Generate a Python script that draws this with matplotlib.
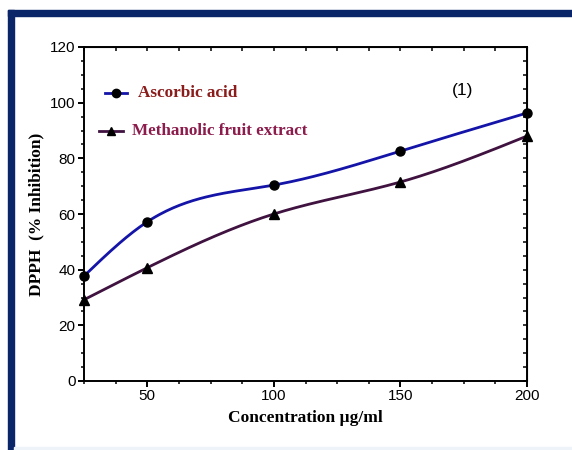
import numpy as np
import matplotlib
matplotlib.use("Agg")
import matplotlib.pyplot as plt
from matplotlib.patches import Rectangle
from matplotlib.lines import Line2D
from matplotlib.ticker import MultipleLocator

# data
conc = [25, 50, 100, 150, 200]
ascorbic = [37.7, 57.2, 70.4, 82.6, 96.3]
methanolic = [29.2, 40.7, 60.0, 71.5, 88.0]

series_names = ["Ascorbic acid", "Methanolic fruit extract"]
line_colors = ["#1414a8", "#3f1240"]
text_colors = ["#8b1c1c", "#8b1c4c"]
markers = ["o", "^"]

BORDER = "#0b2668"


def natural_spline(x, y, n=200):
    """Smooth curve through the points (natural cubic spline), for drawing only."""
    x = np.asarray(x, float)
    y = np.asarray(y, float)
    m = len(x)
    h = np.diff(x)
    A = np.zeros((m, m))
    b = np.zeros(m)
    A[0, 0] = A[-1, -1] = 1.0
    for i in range(1, m - 1):
        A[i, i - 1] = h[i - 1]
        A[i, i] = 2 * (h[i - 1] + h[i])
        A[i, i + 1] = h[i]
        b[i] = 6 * ((y[i + 1] - y[i]) / h[i] - (y[i] - y[i - 1]) / h[i - 1])
    M = np.linalg.solve(A, b)
    xs = np.linspace(x[0], x[-1], n)
    k = np.clip(np.searchsorted(x, xs) - 1, 0, m - 2)
    t0 = x[k + 1] - xs
    t1 = xs - x[k]
    hk = h[k]
    ys = (M[k] * t0 ** 3 + M[k + 1] * t1 ** 3) / (6 * hk) \
        + (y[k] / hk - M[k] * hk / 6) * t0 + (y[k + 1] / hk - M[k + 1] * hk / 6) * t1
    return xs, ys


fig = plt.figure(figsize=(5.72, 4.5), dpi=100)
W, H = 572.0, 450.0

# navy frame around the picture (top band and left band)
fig.patches.append(Rectangle((8 / W, 1 - 16 / H), 1 - 8 / W, 6 / H,
                             transform=fig.transFigure, color=BORDER, zorder=0))
fig.patches.append(Rectangle((8 / W, 0), 6 / W, 1 - 10 / H,
                             transform=fig.transFigure, color=BORDER, zorder=0))
fig.patches.append(Rectangle((14 / W, 0), 1 - 14 / W, 3 / H,
                             transform=fig.transFigure, color="#edf3f9", zorder=0))

ax = fig.add_axes([84 / W, 1 - 381 / H, (527 - 84) / W, (381 - 47) / H])
ax.set_facecolor("none")

for ys, lc, mk in zip([ascorbic, methanolic], line_colors, markers):
    xs_s, ys_s = natural_spline(conc, ys)
    ax.plot(xs_s, ys_s, color=lc, lw=2.0, zorder=3, clip_on=False)
    ax.plot(conc, ys, linestyle="none", marker=mk, color="black",
            markersize=6.5 if mk == "o" else 7, zorder=4, clip_on=False)

ax.set_xlim(25, 200)
ax.set_ylim(0, 120)
ax.xaxis.set_major_locator(MultipleLocator(50))
ax.xaxis.set_minor_locator(MultipleLocator(12.5))
ax.yaxis.set_major_locator(MultipleLocator(20))
ax.yaxis.set_minor_locator(MultipleLocator(5))

for s in ax.spines.values():
    s.set_linewidth(1.4)
ax.tick_params(which="major", direction="out", length=4.5, width=1.4,
               labelsize=11, pad=1.5)
ax.tick_params(which="minor", direction="out", length=2.5, width=1.1)
for lab in ax.get_xticklabels() + ax.get_yticklabels():
    lab.set_fontfamily("Liberation Sans")

# inward ticks on the top and right spines
top = ax.secondary_xaxis("top")
top.xaxis.set_major_locator(MultipleLocator(12.5))
top.tick_params(direction="in", length=3, width=1.1, labeltop=False)
right = ax.secondary_yaxis("right")
right.yaxis.set_major_locator(MultipleLocator(5))
right.tick_params(direction="in", length=3, width=1.1, labelright=False)

ax.set_xlabel("Concentration \u00b5g/ml", fontfamily="Liberation Serif",
              fontweight="bold", fontsize=12.5, labelpad=5)
ax.set_ylabel("DPPH  (% Inhibition)", fontfamily="Liberation Serif",
              fontweight="bold", fontsize=12.5, labelpad=4)

# legend drawn inside the axes
leg_pos = [(105, 127, 93, 138), (99, 123, 131, 132)]
for name, lc, tc, mk, (x0, x1, yy, tx) in zip(series_names, line_colors,
                                                text_colors, markers, leg_pos):
    fig.add_artist(Line2D([x0 / W, x1 / W], [1 - yy / H, 1 - yy / H],
                          transform=fig.transFigure, color=lc, lw=2.0))
    fig.add_artist(Line2D([(x0 + x1) / 2 / W], [1 - yy / H], marker=mk,
                          color="black", markersize=6,
                          transform=fig.transFigure))
    fig.text(tx / W, 1 - yy / H, name, color=tc, fontfamily="Liberation Serif",
             fontweight="bold", fontsize=12.3, va="center", ha="left")

fig.text(463 / W, 1 - 90 / H, "(1)", fontfamily="Liberation Sans",
         fontsize=12.5, ha="center", va="center")

fig.savefig("out.png", dpi=100)
